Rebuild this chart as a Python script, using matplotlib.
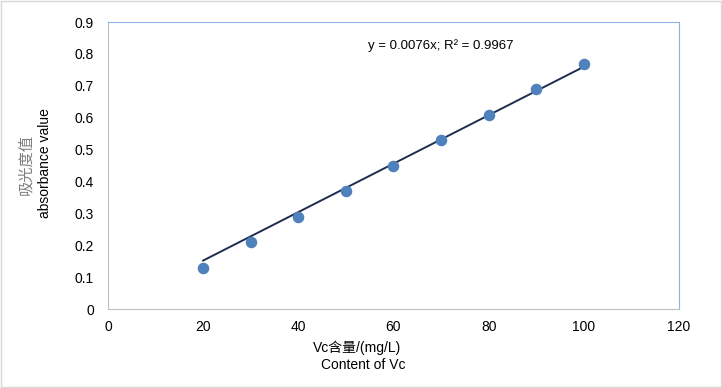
import numpy as np
import matplotlib.pyplot as plt
from matplotlib.patches import Rectangle

plt.rcParams['font.family'] = ['Liberation Sans', 'Noto Sans CJK SC', 'DejaVu Sans']

# Vc content (mg/L) and absorbance
content = [20, 30, 40, 50, 60, 70, 80, 90, 100]
absorbance = [0.13, 0.21, 0.29, 0.37, 0.45, 0.53, 0.61, 0.69, 0.77]
slope = 0.0076

fig = plt.figure(figsize=(7.22, 3.88), dpi=100)
ax = fig.add_axes([0.1496, 0.2036, 0.7908, 0.7394])

x_fit = np.array([min(content), max(content)])
ax.plot(x_fit, slope * x_fit, color='#1f2d4f', lw=1.4, zorder=2)
ax.plot(content, absorbance, 'o', color='#4f81bd', markersize=7.3, zorder=3)

ax.set_xlim(0, 120)
ax.set_ylim(0, 0.9)
ax.set_xticks(range(0, 121, 20))
ax.set_yticks(np.arange(0, 0.91, 0.1))
ax.set_yticklabels(['0'] + ['%.1f' % v for v in np.arange(0.1, 0.91, 0.1)])
ax.tick_params(length=0, labelsize=10, pad=10)
ax.tick_params(axis='x', pad=8)

for s in ['left', 'bottom']:
    ax.spines[s].set_color('#bfbfbf')
for s in ['top', 'right']:
    ax.spines[s].set_color('#8eb4e3')

ax.text(54.6, 0.825, 'y = 0.0076x; R² = 0.9967', fontsize=9.5, va='center')

# axis titles
fig.text(0.036, 0.577, '吸光度值', rotation=90, ha='center', va='center',
         fontsize=11, color='#7f7f7f', family=['Noto Sans CJK SC'])
fig.text(0.062, 0.58, 'absorbance value', rotation=90, ha='center', va='center',
         fontsize=10)
fig.text(0.495, 0.103, 'Vc含量/(mg/L)', ha='center', va='center', fontsize=10,
         family=['Liberation Sans', 'Noto Sans CJK SC'])
fig.text(0.503, 0.06, 'Content of Vc', ha='center', va='center', fontsize=10)

fig.patches.append(Rectangle((0.001, 0.003), 0.997, 0.994, transform=fig.transFigure,
                             fill=False, edgecolor='#d9d9d9', lw=1))

fig.savefig('out.png', dpi=100)
